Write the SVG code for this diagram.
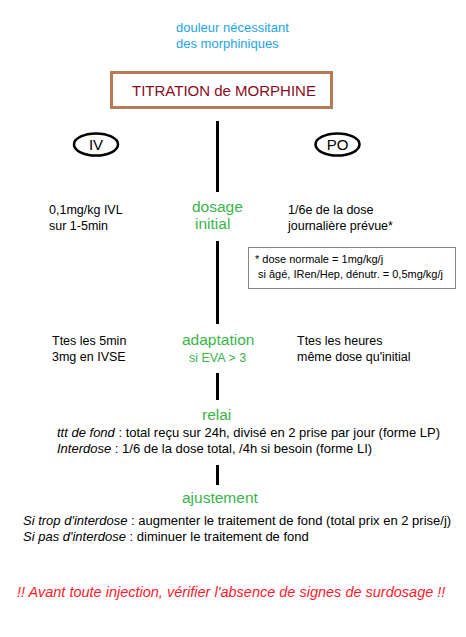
<svg xmlns="http://www.w3.org/2000/svg" width="466" height="637" viewBox="0 0 466 637">
<style>
text{font-family:"Liberation Sans",Arial,sans-serif;}
.t{font-size:12.5px;fill:#000;}
.tl{font-size:13px;fill:#000;}
.g{font-size:15.5px;fill:#3AB54A;}
.gs{font-size:12.5px;fill:#3AB54A;}
.i{font-style:italic;}
.c{stroke:#000;stroke-width:3;fill:none;}
.e{stroke:#000;stroke-width:2.5;fill:#fff;}
.n{font-size:11px;fill:#000;}
</style>
<rect width="466" height="637" fill="#fff"/>
<g id="intro"><text x="176" y="32" style="font-size:13px;fill:#1EA5E8">douleur nécessitant</text><text x="176" y="48" style="font-size:13px;fill:#1EA5E8">des morphiniques</text></g>
<g id="title"><rect x="111.5" y="72.5" width="220" height="35" fill="#fff" stroke="#B97A57" stroke-width="3"/><text x="132" y="96" style="font-size:15px;fill:#8B0A1E">TITRATION de MORPHINE</text></g>
<g id="connectors">
<line class="c" x1="217.5" y1="121" x2="217.5" y2="192"/>
<line class="c" x1="217.5" y1="241" x2="217.5" y2="324"/>
<line class="c" x1="217.5" y1="373" x2="217.5" y2="400"/>
<line class="c" x1="217.5" y1="465" x2="217.5" y2="485"/>
</g>
<g id="iv"><ellipse class="e" cx="96" cy="144.5" rx="22" ry="11"/><text x="96" y="150" text-anchor="middle" style="font-size:15px">IV</text></g>
<g id="po"><ellipse class="e" cx="337.5" cy="144.5" rx="22" ry="11"/><text x="337.5" y="150" text-anchor="middle" style="font-size:15px">PO</text></g>
<g id="iv-init"><text class="t" x="49" y="214">0,1mg/kg IVL</text><text class="t" x="49" y="230">sur 1-5min</text></g>
<g id="dosage"><text class="g" x="192" y="212">dosage</text><text class="g" x="195" y="229">initial</text></g>
<g id="po-init"><text class="t" x="288" y="214">1/6e de la dose</text><text class="t" x="288" y="230">journalière prévue*</text></g>
<g id="note"><rect x="248.5" y="247.5" width="207" height="41" fill="#fff" stroke="#888" stroke-width="1"/><text class="n" x="255" y="263">* dose normale = 1mg/kg/j</text><text class="n" x="258" y="278">si âgé, IRen/Hep, dénutr. = 0,5mg/kg/j</text></g>
<g id="iv-adapt"><text class="t" x="52" y="345">Ttes les 5min</text><text class="t" x="52" y="361">3mg en IVSE</text></g>
<g id="adaptation"><text class="g" x="182" y="345">adaptation</text><text class="gs" x="189" y="362">si EVA &gt; 3</text></g>
<g id="po-adapt"><text class="t" x="297" y="345">Ttes les heures</text><text class="t" x="297" y="361">même dose qu'initial</text></g>
<g id="relai"><text class="g" x="202" y="420">relai</text>
<text class="tl" x="57" y="437"><tspan class="i">ttt de fond</tspan> : total reçu sur 24h, divisé en 2 prise par jour (forme LP)</text>
<text class="tl" x="57" y="453"><tspan class="i">Interdose</tspan> : 1/6 de la dose total, /4h si besoin (forme LI)</text></g>
<g id="ajustement"><text class="g" x="182" y="503">ajustement</text>
<text class="tl" x="23" y="525"><tspan class="i">Si trop d'interdose</tspan> : augmenter le traitement de fond (total prix en 2 prise/j)</text>
<text class="tl" x="23" y="541"><tspan class="i">Si pas d'interdose</tspan> : diminuer le traitement de fond</text></g>
<g id="warning"><text x="17" y="597" style="font-size:14.5px;font-style:italic;fill:#FF1A2E">!! Avant toute injection, vérifier l'absence de signes de surdosage !!</text></g>
</svg>
